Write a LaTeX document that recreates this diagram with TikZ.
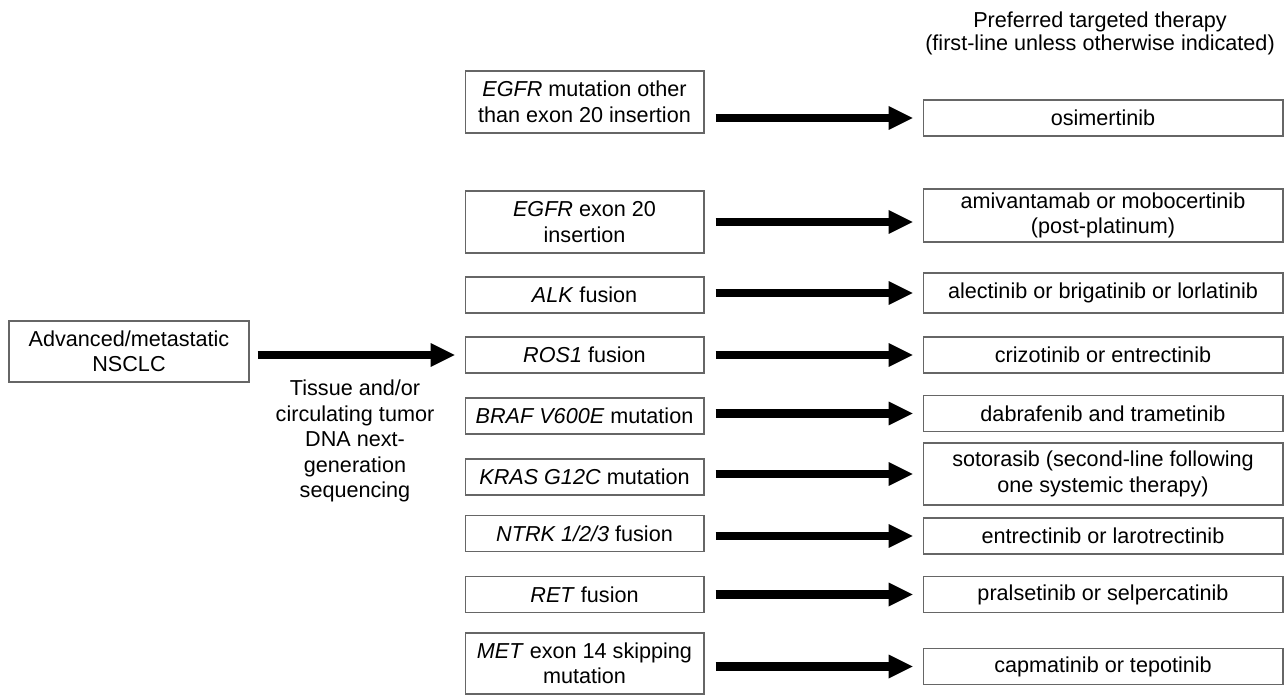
\documentclass[tikz,border=0pt]{standalone}
\usepackage{fontspec}
\setmainfont{Liberation Sans}
\usepackage{tikz}
\usetikzlibrary{arrows.meta}

\begin{document}
\begin{tikzpicture}[
    x=0.02cm, y=-0.02cm,
    font=\fontsize{12.3}{14.5}\selectfont,
    box/.style={rectangle, draw=black!60, line width=0.6pt, fill=white,
                minimum width=4.78cm, minimum height=0.72cm, align=center, inner sep=2pt},
    drug/.style={box, minimum width=7.2cm},
    arr/.style={-{Triangle[length=0.48cm, width=0.48cm, line width=0pt]}, line width=0.165cm,
                black, shorten <=0.22cm, shorten >=0.2cm}
  ]
    \useasboundingbox (0,0) rectangle (1287,695);

    %% ── Column 1: starting point
    \node[box, minimum width=4.8cm, minimum height=1.22cm] (adv) at (129, 351.5)
          {Advanced/metastatic\\NSCLC};
    \node[align=center] (seq) at (355, 441)
          {Tissue and/or\\circulating tumor\\DNA next-\\generation\\sequencing};

    %% ── Column 2: molecular alterations
    \node[box, minimum height=1.24cm] (m1) at (584.5, 102)   {\textit{EGFR} mutation other\\than exon 20 insertion};
    \node[box, minimum height=1.24cm] (m2) at (584.5, 222)   {\textit{EGFR} exon 20\\insertion};
    \node[box] (m3) at (584.5, 295)   {\textit{ALK} fusion};
    \node[box] (m4) at (584.5, 355)   {\textit{ROS1} fusion};
    \node[box] (m5) at (584.5, 416)   {\textit{BRAF V600E} mutation};
    \node[box] (m6) at (584.5, 477)   {\textit{KRAS G12C} mutation};
    \node[box] (m7) at (584.5, 533.5) {\textit{NTRK 1/2/3} fusion};
    \node[box] (m8) at (584.5, 594.5) {\textit{RET} fusion};
    \node[box, minimum height=1.22cm] (m9) at (584.5, 663.5) {\textit{MET} exon 14 skipping\\mutation};

    %% ── Column 3: preferred therapy
    \node[align=center, font=\fontsize{12.3}{13}\selectfont] (head) at (1100, 33)
          {Preferred targeted therapy\\(first-line unless otherwise indicated)};
    \node[drug] (r1) at (1103, 118)   {osimertinib};
    \node[drug, minimum height=1.06cm] (r2) at (1103, 215.5) {amivantamab or mobocertinib\\(post-platinum)};
    \node[drug, minimum height=0.8cm] (r3) at (1103, 293) {alectinib or brigatinib or lorlatinib};
    \node[drug] (r4) at (1103, 355)   {crizotinib or entrectinib};
    \node[drug] (r5) at (1103, 413.5) {dabrafenib and trametinib};
    \node[drug, minimum height=1.24cm] (r6) at (1103, 474) {sotorasib (second-line following\\one systemic therapy)};
    \node[drug] (r7) at (1103, 536)   {entrectinib or larotrectinib};
    \node[drug] (r8) at (1103, 594.5) {pralsetinib or selpercatinib};
    \node[drug] (r9) at (1103, 666.5) {capmatinib or tepotinib};

    %% Arrow: NSCLC -> alterations
    \draw[arr, shorten <=0.16cm] (adv.east |- m4.west) -- (m4.west);

    %% Arrows: alterations -> therapies
    \draw[arr] (m1.east |- r1.west) -- (r1.west);
    \draw[arr] (m2.east) -- (m2.east -| r2.west);
    \draw[arr] (m3.east |- r3.west) -- (r3.west);
    \draw[arr] (m4.east |- r4.west) -- (r4.west);
    \draw[arr] (m5.east |- r5.west) -- (r5.west);
    \draw[arr] (m6.east |- r6.west) -- (r6.west);
    \draw[arr] (m7.east |- r7.west) -- (r7.west);
    \draw[arr] (m8.east |- r8.west) -- (r8.west);
    \draw[arr] (m9.east |- r9.west) -- (r9.west);

  \end{tikzpicture}
\end{document}
